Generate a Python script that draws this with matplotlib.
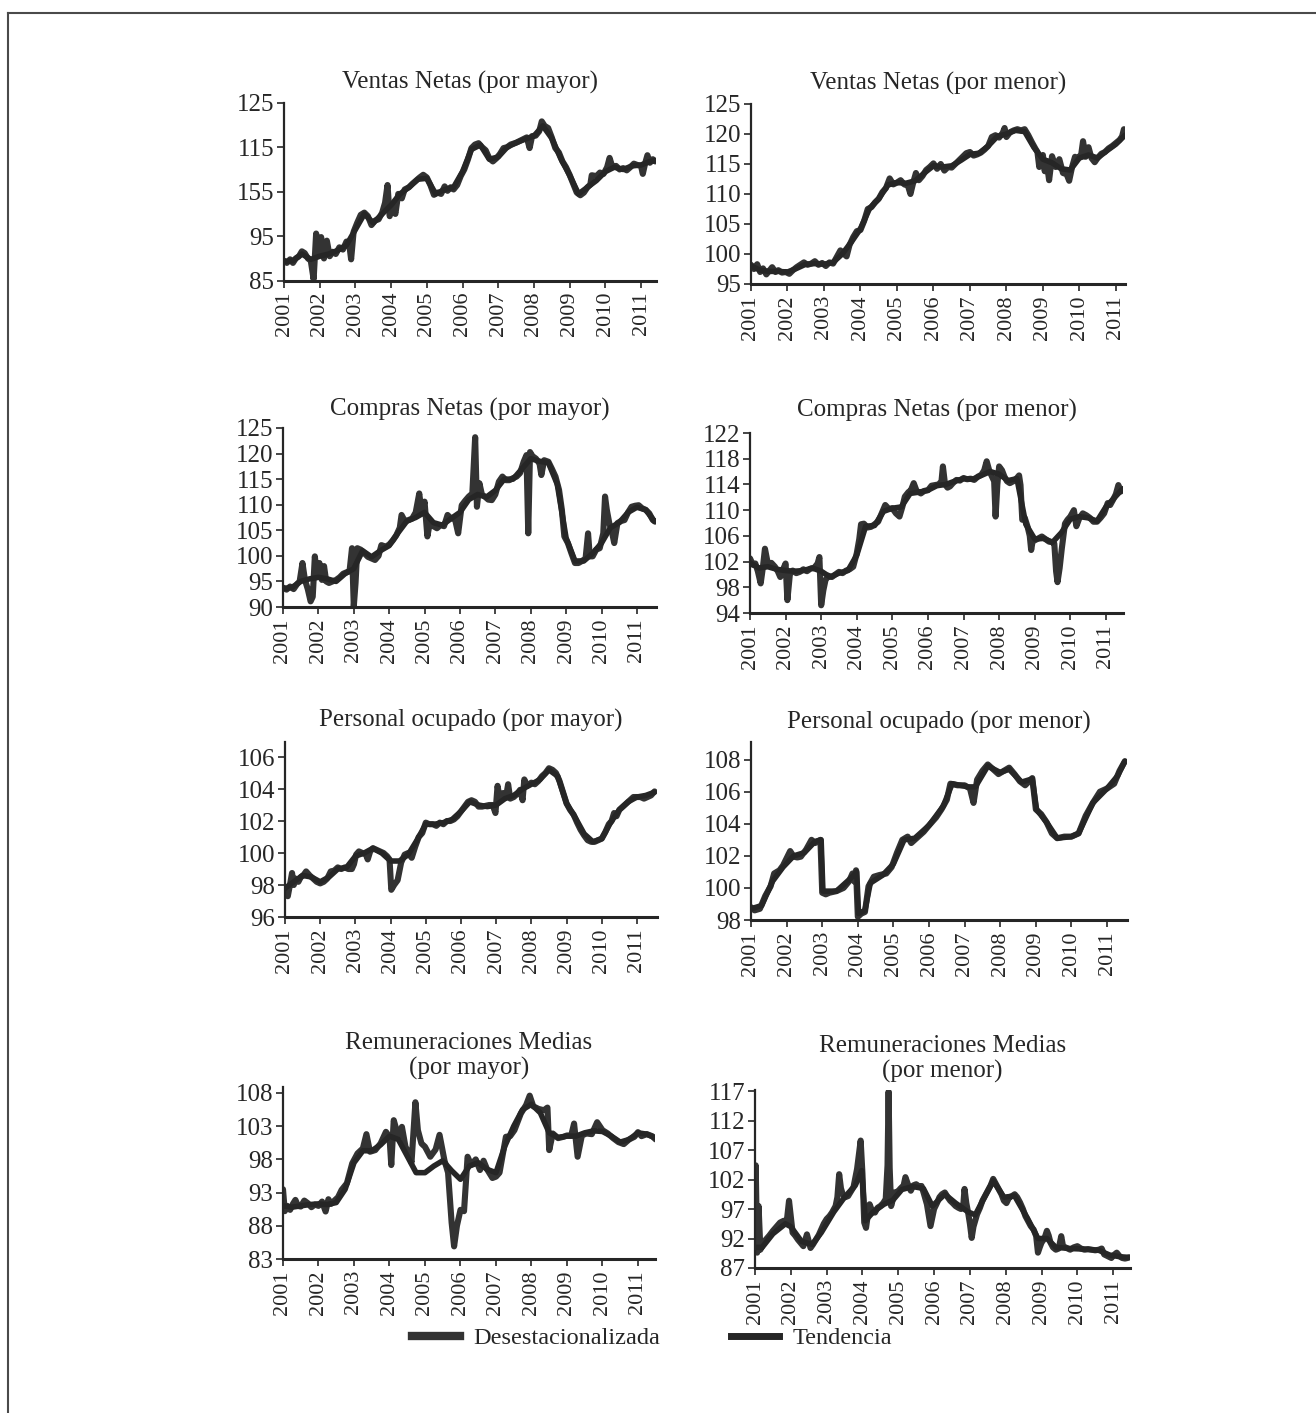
import matplotlib
matplotlib.use("Agg")
import matplotlib.pyplot as plt
from matplotlib.lines import Line2D

plt.rcParams['font.family'] = ['Liberation Serif', 'DejaVu Serif']

W, H = 1316, 1413
years = list(range(2001, 2012))
year_labels = [str(y) for y in years]
legend_labels = ["Desestacionalizada", "Tendencia"]

titles = [
    "Ventas Netas (por mayor)", "Ventas Netas (por menor)",
    "Compras Netas (por mayor)", "Compras Netas (por menor)",
    "Personal ocupado (por mayor)", "Personal ocupado (por menor)",
    "Remuneraciones Medias\n(por mayor)", "Remuneraciones Medias\n(por menor)",
]

yticks = [
    [85, 95, 105, 115, 125],
    [95, 100, 105, 110, 115, 120, 125],
    [90, 95, 100, 105, 110, 115, 120, 125],
    [94, 98, 102, 106, 110, 114, 118, 122],
    [96, 98, 100, 102, 104, 106],
    [98, 100, 102, 104, 106, 108],
    [83, 88, 93, 98, 103, 108],
    [87, 92, 97, 102, 107, 112, 117],
]
yticklabels = [
    ["85", "95", "155", "115", "125"],
    None, None, None, None, None, None, None,
]

# ---------------- data: (decimal year, index) ----------------
ventas_mayor_desest = [
    (2001.00, 89.5), (2001.08, 89.0), (2001.17, 89.8), (2001.25, 89.0), (2001.33, 90.0),
    (2001.42, 90.5), (2001.50, 91.6), (2001.58, 91.2), (2001.67, 90.0), (2001.75, 89.5),
    (2001.83, 85.3), (2001.90, 95.6), (2001.96, 90.5), (2002.04, 94.8), (2002.12, 90.0),
    (2002.20, 94.0), (2002.28, 90.5), (2002.36, 91.5), (2002.45, 91.0), (2002.55, 92.5),
    (2002.65, 92.0), (2002.75, 93.8), (2002.83, 93.0), (2002.88, 89.8), (2002.95, 96.0),
    (2003.05, 98.0), (2003.15, 99.8), (2003.25, 100.3), (2003.35, 99.5), (2003.45, 97.5),
    (2003.55, 98.5), (2003.65, 98.8), (2003.75, 100.3), (2003.83, 102.5), (2003.90, 106.5),
    (2003.96, 99.5), (2004.04, 102.0), (2004.12, 100.0), (2004.20, 104.5), (2004.30, 103.5),
    (2004.38, 105.5), (2004.50, 106.0), (2004.60, 106.8), (2004.70, 107.5), (2004.80, 108.2),
    (2004.90, 108.8), (2005.00, 108.2), (2005.10, 106.5), (2005.20, 104.3), (2005.30, 104.8),
    (2005.40, 104.5), (2005.50, 106.2), (2005.58, 105.2), (2005.67, 106.0), (2005.75, 105.5),
    (2005.85, 106.5), (2005.95, 108.5), (2006.05, 110.0), (2006.15, 112.2), (2006.25, 114.8),
    (2006.35, 115.6), (2006.45, 115.9), (2006.55, 115.0), (2006.65, 114.3), (2006.75, 112.5),
    (2006.85, 111.8), (2006.95, 112.5), (2007.05, 113.5), (2007.15, 114.8), (2007.25, 115.0),
    (2007.35, 115.6), (2007.50, 116.0), (2007.60, 116.4), (2007.70, 116.8), (2007.80, 117.2),
    (2007.88, 114.8), (2007.95, 117.5), (2008.05, 117.6), (2008.15, 118.6), (2008.22, 120.8),
    (2008.30, 119.8), (2008.40, 119.3), (2008.50, 117.2), (2008.60, 114.8), (2008.70, 113.8),
    (2008.80, 111.8), (2008.90, 110.5), (2009.00, 108.8), (2009.10, 106.8), (2009.20, 104.8),
    (2009.30, 104.2), (2009.40, 104.8), (2009.50, 106.0), (2009.58, 106.6), (2009.62, 108.7),
    (2009.75, 108.5), (2009.85, 109.3), (2009.95, 109.0), (2010.05, 110.5), (2010.12, 112.6),
    (2010.20, 110.5), (2010.30, 110.8), (2010.40, 110.0), (2010.50, 110.3), (2010.60, 109.8),
    (2010.70, 110.5), (2010.80, 111.3), (2010.90, 111.0), (2011.00, 110.8), (2011.05, 109.0),
    (2011.12, 111.5), (2011.18, 113.2), (2011.25, 111.5), (2011.33, 112.3), (2011.40, 111.8),
]
ventas_mayor_trend = [
    (2001.00, 89.3), (2001.25, 89.5), (2001.50, 91.0), (2001.75, 89.8), (2002.00, 90.5),
    (2002.25, 91.0), (2002.50, 91.8), (2002.75, 93.0), (2003.00, 96.5), (2003.25, 100.0),
    (2003.50, 98.0), (2003.75, 100.0), (2004.00, 102.0), (2004.25, 104.5), (2004.50, 106.0),
    (2004.75, 107.8), (2005.00, 108.0), (2005.25, 104.5), (2005.50, 105.5), (2005.75, 106.0),
    (2006.00, 109.5), (2006.25, 114.5), (2006.50, 115.5), (2006.75, 112.3), (2007.00, 112.8),
    (2007.25, 115.0), (2007.50, 116.0), (2007.75, 116.8), (2008.00, 117.5), (2008.25, 119.8),
    (2008.50, 117.0), (2008.75, 112.5), (2009.00, 108.7), (2009.25, 104.5), (2009.50, 106.0),
    (2009.75, 107.5), (2010.00, 109.5), (2010.25, 110.5), (2010.50, 110.0), (2010.75, 110.8),
    (2011.00, 111.0), (2011.25, 111.8), (2011.40, 112.0),
]

ventas_menor_desest = [
    (2001.00, 98.2), (2001.08, 97.5), (2001.17, 98.3), (2001.25, 97.0), (2001.33, 97.6),
    (2001.42, 96.6), (2001.50, 97.2), (2001.58, 97.8), (2001.67, 97.0), (2001.75, 97.3),
    (2001.85, 96.9), (2001.95, 97.0), (2002.05, 96.7), (2002.15, 97.3), (2002.25, 97.8),
    (2002.35, 98.2), (2002.45, 98.6), (2002.55, 98.2), (2002.65, 98.4), (2002.75, 98.8),
    (2002.85, 98.2), (2002.95, 98.5), (2003.05, 98.0), (2003.15, 98.6), (2003.25, 98.4),
    (2003.35, 99.5), (2003.45, 100.6), (2003.55, 100.0), (2003.62, 99.6), (2003.70, 101.5),
    (2003.80, 102.8), (2003.90, 103.8), (2004.00, 104.0), (2004.10, 105.5), (2004.20, 107.5),
    (2004.30, 107.8), (2004.40, 108.6), (2004.50, 109.2), (2004.60, 110.3), (2004.70, 111.0),
    (2004.80, 112.6), (2004.90, 111.6), (2005.00, 111.9), (2005.10, 112.3), (2005.20, 111.6),
    (2005.30, 111.4), (2005.37, 110.0), (2005.45, 112.0), (2005.52, 113.5), (2005.60, 112.3),
    (2005.70, 113.0), (2005.80, 114.0), (2005.90, 114.5), (2006.00, 115.1), (2006.10, 114.2),
    (2006.20, 115.0), (2006.30, 113.9), (2006.40, 114.5), (2006.50, 114.4), (2006.60, 115.0),
    (2006.70, 115.6), (2006.80, 116.2), (2006.90, 116.8), (2007.00, 117.0), (2007.10, 116.4),
    (2007.20, 116.6), (2007.30, 116.9), (2007.40, 117.4), (2007.50, 118.0), (2007.60, 119.5),
    (2007.70, 119.8), (2007.80, 119.4), (2007.90, 120.2), (2007.95, 121.0), (2008.00, 119.5),
    (2008.10, 120.3), (2008.20, 120.6), (2008.30, 120.8), (2008.40, 120.6), (2008.50, 120.8),
    (2008.60, 119.8), (2008.70, 118.6), (2008.80, 117.5), (2008.85, 117.0), (2008.90, 114.5),
    (2009.00, 116.5), (2009.05, 113.8), (2009.10, 115.5), (2009.17, 112.3), (2009.25, 116.3),
    (2009.35, 114.5), (2009.45, 115.8), (2009.55, 113.5), (2009.65, 113.3), (2009.72, 112.2),
    (2009.80, 114.5), (2009.88, 116.2), (2009.95, 115.9), (2010.05, 116.6), (2010.10, 118.8),
    (2010.17, 116.2), (2010.25, 117.8), (2010.33, 116.0), (2010.42, 115.3), (2010.50, 116.0),
    (2010.60, 116.7), (2010.70, 117.0), (2010.80, 117.6), (2010.90, 118.0), (2011.00, 118.5),
    (2011.10, 119.0), (2011.17, 119.6), (2011.22, 120.8), (2011.25, 120.0),
]
ventas_menor_trend = [
    (2001.00, 98.0), (2001.25, 97.3), (2001.50, 97.1), (2001.75, 97.1), (2002.00, 97.0),
    (2002.25, 97.6), (2002.50, 98.3), (2002.75, 98.4), (2003.00, 98.3), (2003.25, 98.6),
    (2003.50, 100.0), (2003.75, 102.0), (2004.00, 104.2), (2004.25, 107.6), (2004.50, 109.2),
    (2004.75, 111.5), (2005.00, 111.9), (2005.25, 111.8), (2005.50, 112.2), (2005.75, 113.5),
    (2006.00, 114.7), (2006.25, 114.5), (2006.50, 114.7), (2006.75, 115.6), (2007.00, 116.6),
    (2007.25, 116.8), (2007.50, 118.0), (2007.75, 119.6), (2008.00, 120.0), (2008.25, 120.6),
    (2008.50, 120.4), (2008.75, 117.8), (2009.00, 115.8), (2009.25, 115.2), (2009.50, 114.2),
    (2009.75, 114.0), (2010.00, 116.0), (2010.25, 116.5), (2010.50, 116.0), (2010.75, 117.2),
    (2011.00, 118.3), (2011.25, 119.8),
]

compras_mayor_desest = [
    (2001.00, 93.8), (2001.10, 93.4), (2001.20, 94.0), (2001.30, 93.5), (2001.40, 94.5),
    (2001.47, 95.0), (2001.55, 98.6), (2001.62, 95.3), (2001.70, 93.5), (2001.78, 91.1),
    (2001.84, 92.0), (2001.90, 99.9), (2001.96, 96.0), (2002.03, 98.6), (2002.10, 95.3),
    (2002.16, 98.0), (2002.22, 95.0), (2002.30, 94.7), (2002.40, 95.0), (2002.50, 95.3),
    (2002.60, 95.8), (2002.70, 96.5), (2002.80, 96.8), (2002.88, 97.0), (2002.95, 101.5),
    (2003.00, 90.1), (2003.05, 94.7), (2003.10, 101.5), (2003.20, 101.2), (2003.30, 100.5),
    (2003.40, 99.8), (2003.50, 99.5), (2003.60, 99.2), (2003.70, 100.0), (2003.78, 102.1),
    (2003.90, 101.8), (2004.00, 102.2), (2004.10, 103.0), (2004.20, 104.0), (2004.30, 105.5),
    (2004.35, 108.0), (2004.45, 106.7), (2004.55, 107.0), (2004.65, 107.3), (2004.75, 108.5),
    (2004.85, 112.2), (2004.92, 108.3), (2005.00, 110.6), (2005.08, 103.8), (2005.15, 106.5),
    (2005.25, 105.8), (2005.35, 105.4), (2005.45, 106.0), (2005.55, 105.8), (2005.65, 108.0),
    (2005.75, 107.3), (2005.85, 107.5), (2005.95, 104.4), (2006.05, 109.9), (2006.15, 110.8),
    (2006.25, 111.6), (2006.35, 112.2), (2006.43, 123.2), (2006.48, 109.6), (2006.55, 114.2),
    (2006.62, 112.0), (2006.70, 111.6), (2006.80, 111.0), (2006.90, 110.9), (2007.00, 112.0),
    (2007.10, 114.5), (2007.20, 115.5), (2007.30, 114.8), (2007.40, 114.8), (2007.50, 115.2),
    (2007.60, 115.5), (2007.70, 116.2), (2007.80, 118.4), (2007.88, 119.7), (2007.93, 104.4),
    (2007.98, 120.3), (2008.05, 119.5), (2008.15, 119.0), (2008.25, 118.0), (2008.30, 115.8),
    (2008.38, 118.7), (2008.50, 118.4), (2008.60, 117.0), (2008.70, 115.5), (2008.80, 112.9),
    (2008.88, 109.0), (2008.95, 103.8), (2009.05, 102.5), (2009.15, 100.5), (2009.25, 98.6),
    (2009.35, 98.6), (2009.45, 99.0), (2009.55, 99.5), (2009.62, 104.4), (2009.67, 99.9),
    (2009.75, 99.9), (2009.85, 101.2), (2009.95, 101.5), (2010.05, 104.4), (2010.10, 111.6),
    (2010.15, 109.0), (2010.22, 106.4), (2010.30, 104.5), (2010.36, 102.5), (2010.45, 106.4),
    (2010.55, 106.8), (2010.65, 107.0), (2010.75, 108.5), (2010.85, 109.6), (2010.95, 109.8),
    (2011.05, 109.9), (2011.15, 109.3), (2011.25, 109.0), (2011.35, 108.3), (2011.45, 107.0),
    (2011.52, 106.7),
]
compras_mayor_trend = [
    (2001.00, 93.6), (2001.25, 93.8), (2001.50, 95.0), (2001.75, 95.5), (2002.00, 95.8),
    (2002.25, 95.5), (2002.50, 95.0), (2002.75, 96.5), (2003.00, 97.5), (2003.25, 101.0),
    (2003.50, 99.8), (2003.75, 101.0), (2004.00, 102.0), (2004.25, 104.5), (2004.50, 106.8),
    (2004.75, 107.5), (2005.00, 108.5), (2005.25, 106.5), (2005.50, 106.0), (2005.75, 107.3),
    (2006.00, 108.5), (2006.25, 111.0), (2006.50, 112.0), (2006.75, 111.5), (2007.00, 112.8),
    (2007.25, 115.0), (2007.50, 115.0), (2007.75, 117.0), (2008.00, 119.0), (2008.25, 118.5),
    (2008.50, 118.2), (2008.75, 114.0), (2009.00, 103.5), (2009.25, 99.0), (2009.50, 99.0),
    (2009.75, 100.5), (2010.00, 102.5), (2010.25, 105.5), (2010.50, 106.5), (2010.75, 108.5),
    (2011.00, 109.5), (2011.25, 109.0), (2011.50, 106.7),
]

compras_menor_desest = [
    (2001.00, 102.5), (2001.08, 101.5), (2001.15, 101.7), (2001.22, 100.5), (2001.30, 98.6),
    (2001.36, 101.0), (2001.42, 104.0), (2001.50, 101.7), (2001.60, 101.8), (2001.70, 101.2),
    (2001.78, 100.5), (2001.85, 99.6), (2001.93, 100.8), (2002.00, 101.7), (2002.05, 96.0),
    (2002.12, 100.0), (2002.20, 100.6), (2002.30, 100.2), (2002.40, 100.4), (2002.50, 100.8),
    (2002.60, 100.5), (2002.70, 100.9), (2002.80, 101.0), (2002.90, 101.7), (2002.95, 102.7),
    (2003.00, 95.2), (2003.06, 97.5), (2003.12, 99.1), (2003.20, 99.8), (2003.30, 99.6),
    (2003.40, 100.0), (2003.50, 100.4), (2003.60, 100.2), (2003.70, 100.6), (2003.80, 100.8),
    (2003.90, 101.2), (2004.00, 103.3), (2004.07, 105.5), (2004.12, 107.8), (2004.20, 107.9),
    (2004.30, 107.3), (2004.40, 107.4), (2004.50, 107.8), (2004.60, 108.2), (2004.70, 109.5),
    (2004.80, 110.8), (2004.90, 110.2), (2005.00, 110.3), (2005.10, 109.5), (2005.20, 109.0),
    (2005.28, 110.5), (2005.35, 112.1), (2005.45, 112.8), (2005.52, 113.1), (2005.60, 114.2),
    (2005.68, 113.0), (2005.80, 112.6), (2005.90, 113.0), (2006.00, 113.1), (2006.10, 113.8),
    (2006.20, 113.9), (2006.30, 114.0), (2006.38, 114.5), (2006.42, 116.8), (2006.48, 114.0),
    (2006.55, 113.5), (2006.62, 113.7), (2006.70, 114.2), (2006.80, 114.7), (2006.90, 114.6),
    (2007.00, 115.0), (2007.10, 114.8), (2007.20, 114.9), (2007.30, 114.7), (2007.40, 115.2),
    (2007.50, 115.5), (2007.58, 116.2), (2007.65, 117.6), (2007.72, 116.2), (2007.80, 115.2),
    (2007.86, 114.5), (2007.90, 109.0), (2007.95, 114.0), (2008.00, 116.8), (2008.08, 116.2),
    (2008.15, 115.2), (2008.22, 114.5), (2008.30, 114.2), (2008.40, 114.5), (2008.50, 115.0),
    (2008.56, 115.4), (2008.60, 113.9), (2008.65, 108.5), (2008.72, 108.8), (2008.80, 107.4),
    (2008.86, 106.0), (2008.90, 103.8), (2008.95, 105.5), (2009.00, 105.3), (2009.10, 105.6),
    (2009.20, 105.9), (2009.30, 105.5), (2009.40, 105.1), (2009.50, 105.0), (2009.55, 104.8),
    (2009.60, 100.5), (2009.64, 98.8), (2009.70, 101.0), (2009.76, 104.0), (2009.85, 107.9),
    (2009.92, 108.5), (2010.00, 109.0), (2010.10, 110.0), (2010.17, 107.5), (2010.25, 108.7),
    (2010.35, 109.5), (2010.45, 109.2), (2010.55, 108.8), (2010.65, 108.2), (2010.75, 108.2),
    (2010.85, 108.8), (2010.95, 109.5), (2011.05, 111.1), (2011.12, 110.8), (2011.20, 111.6),
    (2011.28, 112.5), (2011.35, 113.9), (2011.42, 112.9), (2011.46, 113.3),
]
compras_menor_trend = [
    (2001.00, 101.8), (2001.25, 101.0), (2001.50, 101.2), (2001.75, 100.8), (2002.00, 100.6),
    (2002.25, 100.5), (2002.50, 100.6), (2002.75, 101.0), (2003.00, 100.5), (2003.25, 99.6),
    (2003.50, 100.2), (2003.75, 100.6), (2004.00, 103.0), (2004.25, 107.5), (2004.50, 107.6),
    (2004.75, 109.8), (2005.00, 110.3), (2005.25, 110.5), (2005.50, 112.6), (2005.75, 112.8),
    (2006.00, 113.1), (2006.25, 113.8), (2006.50, 114.0), (2006.75, 114.5), (2007.00, 114.9),
    (2007.25, 114.8), (2007.50, 115.4), (2007.75, 116.0), (2008.00, 115.6), (2008.25, 114.6),
    (2008.50, 114.9), (2008.75, 107.8), (2009.00, 105.5), (2009.25, 105.6), (2009.50, 105.0),
    (2009.75, 106.5), (2010.00, 108.6), (2010.25, 109.0), (2010.50, 108.8), (2010.75, 108.3),
    (2011.00, 110.5), (2011.25, 112.0), (2011.45, 113.2),
]

personal_mayor_desest = [
    (2001.00, 97.6), (2001.08, 97.3), (2001.14, 98.0), (2001.20, 98.75), (2001.25, 98.0),
    (2001.30, 98.4), (2001.38, 98.2), (2001.45, 98.5), (2001.52, 98.6), (2001.60, 98.85),
    (2001.70, 98.6), (2001.80, 98.4), (2001.90, 98.2), (2002.00, 98.1), (2002.10, 98.2),
    (2002.20, 98.4), (2002.30, 98.85), (2002.40, 98.9), (2002.50, 99.1), (2002.60, 99.0),
    (2002.70, 99.1), (2002.80, 99.0), (2002.90, 99.0), (2002.96, 99.3), (2003.02, 99.9),
    (2003.10, 100.1), (2003.20, 100.0), (2003.30, 99.9), (2003.35, 99.6), (2003.42, 100.1),
    (2003.50, 100.3), (2003.60, 100.2), (2003.70, 100.1), (2003.80, 100.0), (2003.90, 99.8),
    (2003.97, 99.6), (2004.02, 97.7), (2004.10, 98.0), (2004.20, 98.3), (2004.30, 99.4),
    (2004.40, 99.9), (2004.50, 100.0), (2004.60, 99.7), (2004.70, 100.4), (2004.80, 101.0),
    (2004.90, 101.25), (2005.00, 101.9), (2005.10, 101.8), (2005.20, 101.8), (2005.30, 101.7),
    (2005.40, 101.9), (2005.50, 101.8), (2005.60, 102.0), (2005.70, 102.0), (2005.80, 102.1),
    (2005.90, 102.3), (2006.00, 102.6), (2006.10, 102.9), (2006.20, 103.2), (2006.30, 103.3),
    (2006.40, 103.2), (2006.50, 102.9), (2006.60, 102.9), (2006.70, 102.95), (2006.80, 103.0),
    (2006.90, 103.0), (2006.98, 102.5), (2007.04, 104.2), (2007.10, 103.4), (2007.20, 103.75),
    (2007.28, 103.5), (2007.34, 104.3), (2007.40, 103.4), (2007.50, 103.5), (2007.60, 103.7),
    (2007.68, 103.95), (2007.75, 103.3), (2007.80, 104.6), (2007.88, 104.2), (2008.00, 104.4),
    (2008.10, 104.3), (2008.20, 104.5), (2008.30, 104.8), (2008.40, 105.0), (2008.50, 105.3),
    (2008.60, 105.2), (2008.70, 105.0), (2008.80, 104.5), (2008.90, 103.8), (2009.00, 103.1),
    (2009.10, 102.7), (2009.20, 102.4), (2009.30, 101.9), (2009.40, 101.45), (2009.50, 101.1),
    (2009.60, 100.8), (2009.70, 100.7), (2009.80, 100.7), (2009.90, 100.8), (2010.00, 100.9),
    (2010.10, 101.3), (2010.20, 101.8), (2010.28, 102.0), (2010.35, 102.5), (2010.42, 102.3),
    (2010.50, 102.7), (2010.60, 102.9), (2010.70, 103.1), (2010.80, 103.3), (2010.90, 103.5),
    (2011.00, 103.5), (2011.10, 103.5), (2011.20, 103.4), (2011.30, 103.5), (2011.40, 103.6),
    (2011.50, 103.85),
]
personal_mayor_trend = [
    (2001.00, 97.8), (2001.25, 98.2), (2001.50, 98.6), (2001.75, 98.5), (2002.00, 98.2),
    (2002.25, 98.5), (2002.50, 99.0), (2002.75, 99.1), (2003.00, 99.8), (2003.25, 100.0),
    (2003.50, 100.3), (2003.75, 100.0), (2004.00, 99.5), (2004.25, 99.5), (2004.50, 99.9),
    (2004.75, 100.8), (2005.00, 101.8), (2005.25, 101.8), (2005.50, 101.9), (2005.75, 102.1),
    (2006.00, 102.6), (2006.25, 103.2), (2006.50, 103.0), (2006.75, 102.9), (2007.00, 103.0),
    (2007.25, 103.4), (2007.50, 103.6), (2007.75, 104.0), (2008.00, 104.3), (2008.25, 104.6),
    (2008.50, 105.2), (2008.75, 104.8), (2009.00, 103.1), (2009.25, 102.2), (2009.50, 101.2),
    (2009.75, 100.7), (2010.00, 100.9), (2010.25, 101.9), (2010.50, 102.7), (2010.75, 103.2),
    (2011.00, 103.5), (2011.25, 103.6), (2011.50, 103.8),
]

personal_menor_desest = [
    (2001.00, 98.8), (2001.10, 98.6), (2001.25, 98.7), (2001.40, 99.5), (2001.55, 100.1),
    (2001.65, 100.9), (2001.80, 101.1), (2001.90, 101.4), (2002.00, 101.85), (2002.10, 102.3),
    (2002.20, 101.95), (2002.30, 101.9), (2002.40, 101.95), (2002.55, 102.4), (2002.70, 103.0),
    (2002.80, 102.8), (2002.95, 103.0), (2003.00, 99.7), (2003.10, 99.6), (2003.20, 99.7),
    (2003.40, 99.8), (2003.60, 100.0), (2003.75, 100.4), (2003.85, 100.9), (2003.90, 100.4),
    (2003.95, 101.1), (2004.00, 98.2), (2004.10, 98.4), (2004.20, 98.5), (2004.30, 100.1),
    (2004.45, 100.7), (2004.60, 100.8), (2004.80, 100.9), (2004.95, 101.3), (2005.10, 102.2),
    (2005.25, 103.0), (2005.40, 103.2), (2005.50, 102.8), (2005.70, 103.2), (2005.85, 103.5),
    (2006.00, 103.9), (2006.20, 104.4), (2006.35, 104.9), (2006.50, 105.5), (2006.60, 106.5),
    (2006.80, 106.4), (2007.00, 106.4), (2007.15, 106.2), (2007.25, 105.3), (2007.35, 106.75),
    (2007.50, 107.3), (2007.65, 107.7), (2007.80, 107.4), (2007.95, 107.1), (2008.10, 107.3),
    (2008.25, 107.5), (2008.40, 107.1), (2008.55, 106.65), (2008.70, 106.4), (2008.90, 106.85),
    (2009.00, 104.9), (2009.15, 104.6), (2009.30, 104.1), (2009.45, 103.4), (2009.60, 103.1),
    (2009.80, 103.2), (2010.00, 103.2), (2010.20, 103.4), (2010.40, 104.5), (2010.60, 105.3),
    (2010.80, 106.0), (2011.00, 106.2), (2011.20, 106.5), (2011.35, 107.3), (2011.50, 107.9),
]
personal_menor_trend = [
    (2001.00, 98.7), (2001.30, 98.9), (2001.60, 100.4), (2001.90, 101.3), (2002.20, 102.0),
    (2002.50, 102.2), (2002.80, 102.9), (2002.97, 103.0), (2003.02, 99.8), (2003.40, 99.8),
    (2003.80, 100.6), (2003.97, 101.0), (2004.02, 98.4), (2004.20, 98.6), (2004.35, 100.3),
    (2004.70, 100.8), (2005.00, 101.5), (2005.30, 103.0), (2005.60, 103.1), (2006.00, 103.9),
    (2006.40, 105.1), (2006.65, 106.5), (2007.10, 106.3), (2007.30, 106.3), (2007.65, 107.6),
    (2008.00, 107.2), (2008.25, 107.4), (2008.60, 106.6), (2008.90, 106.8), (2009.02, 104.9),
    (2009.30, 104.1), (2009.60, 103.1), (2010.00, 103.2), (2010.20, 103.4), (2010.60, 105.3),
    (2011.00, 106.2), (2011.30, 107.0), (2011.50, 107.9),
]

remun_mayor_desest = [
    (2001.00, 93.5), (2001.05, 90.2), (2001.12, 91.0), (2001.20, 90.4), (2001.28, 91.3),
    (2001.35, 91.9), (2001.42, 91.0), (2001.50, 90.9), (2001.60, 91.8), (2001.70, 91.4),
    (2001.80, 90.8), (2001.90, 91.2), (2002.00, 91.0), (2002.10, 91.65), (2002.20, 90.15),
    (2002.28, 92.0), (2002.35, 91.3), (2002.45, 91.8), (2002.55, 92.3), (2002.65, 93.4),
    (2002.80, 94.4), (2002.95, 97.4), (2003.10, 98.9), (2003.25, 99.65), (2003.35, 101.8),
    (2003.45, 99.15), (2003.60, 99.4), (2003.75, 100.4), (2003.90, 102.15), (2004.00, 101.4),
    (2004.05, 97.15), (2004.12, 103.9), (2004.25, 101.4), (2004.35, 102.9), (2004.45, 99.9),
    (2004.55, 98.9), (2004.62, 97.5), (2004.73, 106.6), (2004.80, 102.4), (2004.90, 100.4),
    (2005.00, 99.9), (2005.15, 98.4), (2005.30, 99.5), (2005.41, 101.7), (2005.55, 97.8),
    (2005.65, 96.0), (2005.75, 88.5), (2005.82, 84.9), (2005.90, 88.0), (2006.00, 90.4),
    (2006.10, 90.2), (2006.20, 98.4), (2006.30, 97.2), (2006.43, 98.0), (2006.55, 96.4),
    (2006.65, 97.8), (2006.75, 96.5), (2006.90, 95.2), (2007.00, 95.4), (2007.10, 96.0),
    (2007.28, 101.4), (2007.40, 101.5), (2007.52, 102.4), (2007.70, 104.9), (2007.85, 106.2),
    (2007.95, 107.6), (2008.05, 106.0), (2008.20, 105.6), (2008.35, 105.4), (2008.45, 105.8),
    (2008.50, 99.4), (2008.60, 101.9), (2008.75, 101.2), (2008.90, 101.4), (2009.00, 101.6),
    (2009.12, 101.6), (2009.20, 103.4), (2009.30, 98.4), (2009.42, 101.6), (2009.55, 101.9),
    (2009.70, 101.8), (2009.85, 103.6), (2010.00, 102.4), (2010.15, 101.9), (2010.30, 101.2),
    (2010.45, 100.6), (2010.60, 100.3), (2010.75, 101.0), (2010.90, 101.4), (2011.00, 102.1),
    (2011.10, 101.5), (2011.25, 101.8), (2011.40, 101.5), (2011.50, 101.0),
]
remun_mayor_trend = [
    (2001.00, 91.0), (2001.25, 90.8), (2001.50, 91.0), (2001.75, 91.2), (2002.00, 91.3),
    (2002.25, 91.2), (2002.50, 91.5), (2002.75, 93.5), (2003.00, 97.5), (2003.25, 99.3),
    (2003.50, 99.3), (2003.75, 100.2), (2004.00, 101.5), (2004.25, 101.0), (2004.50, 98.5),
    (2004.75, 96.0), (2005.00, 96.0), (2005.25, 97.0), (2005.50, 97.8), (2005.75, 96.3),
    (2006.00, 95.0), (2006.25, 97.0), (2006.50, 97.5), (2006.75, 96.5), (2007.00, 96.0),
    (2007.25, 100.0), (2007.50, 103.0), (2007.75, 105.5), (2008.00, 106.3), (2008.25, 105.0),
    (2008.50, 102.0), (2008.75, 101.3), (2009.00, 101.5), (2009.25, 101.5), (2009.50, 102.0),
    (2009.75, 102.3), (2010.00, 102.2), (2010.25, 101.5), (2010.50, 100.6), (2010.75, 101.0),
    (2011.00, 102.0), (2011.25, 101.8), (2011.50, 101.2),
]

remun_menor_desest = [
    (2001.00, 90.7), (2001.02, 104.4), (2001.06, 89.6), (2001.10, 97.5), (2001.15, 90.1),
    (2001.22, 91.0), (2001.30, 91.8), (2001.40, 92.5), (2001.50, 93.3), (2001.60, 94.0),
    (2001.70, 94.7), (2001.80, 95.0), (2001.88, 94.5), (2001.95, 98.4), (2002.05, 93.0),
    (2002.12, 92.5), (2002.20, 91.8), (2002.28, 91.2), (2002.35, 90.7), (2002.45, 92.7),
    (2002.55, 90.4), (2002.62, 91.0), (2002.70, 91.8), (2002.78, 92.6), (2002.85, 93.55),
    (2002.92, 94.5), (2003.00, 95.3), (2003.08, 95.8), (2003.15, 96.4), (2003.25, 97.5),
    (2003.30, 99.0), (2003.35, 102.9), (2003.40, 100.5), (2003.45, 99.5), (2003.52, 99.0),
    (2003.60, 99.2), (2003.68, 100.0), (2003.75, 100.7), (2003.85, 103.8), (2003.95, 108.6),
    (2004.00, 103.0), (2004.05, 94.7), (2004.10, 93.8), (2004.15, 96.0), (2004.20, 97.8),
    (2004.28, 96.5), (2004.35, 96.4), (2004.42, 97.2), (2004.50, 97.5), (2004.58, 98.0),
    (2004.65, 98.7), (2004.70, 104.4), (2004.73, 116.9), (2004.76, 104.0), (2004.80, 97.5),
    (2004.90, 99.8), (2005.00, 100.0), (2005.05, 100.4), (2005.15, 101.0), (2005.20, 102.4),
    (2005.28, 101.0), (2005.35, 100.1), (2005.42, 101.0), (2005.50, 101.2), (2005.58, 100.8),
    (2005.65, 100.9), (2005.72, 99.5), (2005.80, 97.8), (2005.90, 94.1), (2006.00, 97.0),
    (2006.08, 98.0), (2006.15, 99.0), (2006.22, 99.5), (2006.30, 99.8), (2006.38, 99.0),
    (2006.45, 98.4), (2006.52, 98.0), (2006.60, 97.5), (2006.68, 97.2), (2006.75, 97.0),
    (2006.82, 98.0), (2006.85, 100.4), (2006.90, 98.0), (2006.95, 96.4), (2007.00, 94.5),
    (2007.05, 92.1), (2007.10, 94.0), (2007.20, 96.1), (2007.28, 97.2), (2007.35, 98.4),
    (2007.42, 99.2), (2007.50, 100.1), (2007.58, 101.0), (2007.65, 102.1), (2007.72, 101.3),
    (2007.80, 100.4), (2007.88, 99.5), (2007.95, 98.4), (2008.02, 98.0), (2008.10, 99.0),
    (2008.18, 99.2), (2008.25, 99.5), (2008.32, 99.0), (2008.40, 98.1), (2008.48, 97.0),
    (2008.55, 95.8), (2008.62, 95.0), (2008.70, 94.1), (2008.78, 93.5), (2008.85, 92.4),
    (2008.90, 89.6), (2008.95, 90.5), (2009.00, 91.3), (2009.08, 92.0), (2009.15, 93.3),
    (2009.20, 92.5), (2009.25, 91.3), (2009.32, 90.5), (2009.40, 90.1), (2009.48, 90.3),
    (2009.55, 92.4), (2009.60, 90.7), (2009.70, 90.4), (2009.80, 90.1), (2009.90, 90.5),
    (2010.00, 90.7), (2010.10, 90.3), (2010.20, 90.1), (2010.30, 90.2), (2010.40, 90.1),
    (2010.50, 90.0), (2010.60, 90.1), (2010.68, 90.3), (2010.75, 89.3), (2010.85, 89.0),
    (2010.95, 88.7), (2011.02, 89.2), (2011.10, 89.6), (2011.18, 89.0), (2011.25, 88.7),
    (2011.33, 88.6), (2011.40, 88.7), (2011.45, 88.8),
]
remun_menor_trend = [
    (2001.00, 90.5), (2001.20, 90.5), (2001.50, 92.8), (2001.85, 94.5), (2002.00, 94.0),
    (2002.30, 91.5), (2002.60, 91.0), (2002.85, 93.0), (2003.20, 96.5), (2003.50, 99.0),
    (2003.80, 101.0), (2003.98, 103.5), (2004.08, 95.0), (2004.30, 96.5), (2004.60, 97.8),
    (2004.85, 98.5), (2005.10, 100.3), (2005.40, 100.8), (2005.70, 100.5), (2005.95, 97.5),
    (2006.30, 99.5), (2006.60, 98.0), (2006.95, 96.5), (2007.15, 96.0), (2007.45, 99.5),
    (2007.65, 101.8), (2007.95, 99.0), (2008.25, 99.2), (2008.60, 95.5), (2008.90, 92.0),
    (2009.15, 92.0), (2009.40, 90.5), (2009.80, 90.3), (2010.20, 90.2), (2010.60, 90.0),
    (2010.90, 89.2), (2011.20, 88.9), (2011.45, 88.8),
]

desest_series = [ventas_mayor_desest, ventas_menor_desest, compras_mayor_desest,
                 compras_menor_desest, personal_mayor_desest, personal_menor_desest,
                 remun_mayor_desest, remun_menor_desest]
trend_series = [ventas_mayor_trend, ventas_menor_trend, compras_mayor_trend,
                compras_menor_trend, personal_mayor_trend, personal_menor_trend,
                remun_mayor_trend, remun_menor_trend]

# ---------------- layout (pixels): left, right, y of ylim-top, y of ylim-bottom ----------------
layout = [
    (284, 656, 102.7, 280.7, (85, 125), 2011.42, 20),
    (751, 1125, 104, 284, (95, 125), 2011.25, 21),
    (283, 656, 428, 607, (90, 125), 2011.54, 19),
    (750, 1123, 433, 613, (94, 122), 2011.48, 23),
    (285, 657, 742, 917, (96, 106.94), 2011.57, 22),
    (751, 1127, 742, 920, (98, 109.1), 2011.56, 20),
    (283, 655, 1087, 1259, (83, 108.9), 2011.48, 31),
    (755, 1130, 1090, 1268, (87, 117.17), 2011.47, 31),
]

ink = '#262626'
desest_color = '#333333'
trend_color = '#262626'

fig = plt.figure(figsize=(W / 100, H / 100), dpi=100)

for i in range(8):
    l, r, t, b, ylim, xmax, tdy = layout[i]
    ax = fig.add_axes([l / W, 1 - b / H, (r - l) / W, (b - t) / H])
    dx = [p[0] for p in desest_series[i]]
    dy = [p[1] for p in desest_series[i]]
    tx = [p[0] for p in trend_series[i]]
    ty = [p[1] for p in trend_series[i]]
    ax.plot(dx, dy, color=desest_color, lw=4.4, solid_joinstyle='round',
            solid_capstyle='round')
    ax.plot(tx, ty, color=trend_color, lw=4.0, solid_joinstyle='round',
            solid_capstyle='round')
    ax.set_xlim(2001, xmax)
    ax.set_ylim(*ylim)
    ax.set_yticks(yticks[i])
    if yticklabels[i] is not None:
        ax.set_yticklabels(yticklabels[i])
    ax.set_xticks(years)
    ax.set_xticklabels(year_labels, rotation=90)
    for s in ['top', 'right']:
        ax.spines[s].set_visible(False)
    ax.spines['left'].set_linewidth(1.6)
    ax.spines['bottom'].set_linewidth(2.2)
    ax.spines['left'].set_color(ink)
    ax.spines['bottom'].set_color(ink)
    ax.tick_params(axis='y', direction='out', length=5, width=1.2, pad=2,
                   labelsize=18, colors=ink)
    ax.tick_params(axis='x', direction='out', length=5, width=1.2, pad=3,
                   labelsize=16, colors=ink)
    ax.patch.set_alpha(0)
    ax.annotate(titles[i], xy=(0.5, 1), xycoords='axes fraction',
                xytext=(0, tdy), textcoords='offset pixels',
                ha='center', va='center', fontsize=18, color=ink, linespacing=1.2)

leg = fig.legend([Line2D([], [], color=desest_color, lw=6),
                  Line2D([], [], color=trend_color, lw=5)],
                 legend_labels, loc='center', bbox_to_anchor=(652 / W, 1 - 1338 / H),
                 ncol=2, frameon=False, fontsize=17.5, handlelength=2.0,
                 handletextpad=0.55, columnspacing=2.9)
for txt in leg.get_texts():
    txt.set_color(ink)

# scanned page frame (top and left edges)
fig.add_artist(Line2D([8 / W, 1.0], [1 - 13 / H, 1 - 13 / H], color='#4a4a4a', lw=1.5))
fig.add_artist(Line2D([8 / W, 8 / W], [1 - 13 / H, 0.0], color='#4a4a4a', lw=1.5))

fig.savefig('out.png', dpi=100, facecolor='white')
